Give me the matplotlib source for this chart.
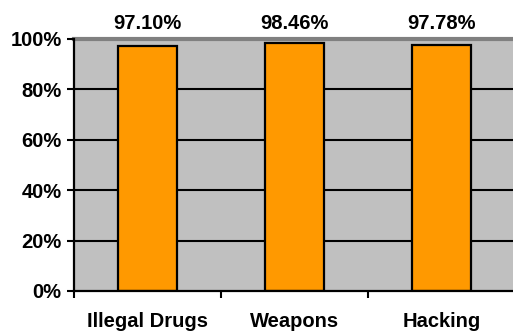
import matplotlib
matplotlib.use("Agg")
import matplotlib.pyplot as plt
from matplotlib.ticker import FuncFormatter

categories = ["Illegal Drugs", "Weapons", "Hacking"]
values = [97.10, 98.46, 97.78]
yticks = [0, 20, 40, 60, 80, 100]

plt.rcParams['font.family'] = ['Liberation Sans', 'DejaVu Sans']
plt.rcParams['font.weight'] = 'bold'

fig = plt.figure(figsize=(5.13, 3.33), dpi=100)
ax = fig.add_axes([74/513, 42/333, 441/513, 252/333])
ax.set_facecolor('#C0C0C0')

x = list(range(len(categories)))
ax.set_ylim(0, 100)
ax.set_xlim(-0.5, len(categories) - 0.5)
for yv in yticks[1:-1]:
    ax.axhline(yv, color='black', lw=1.5, zorder=1)
ax.axhline(100, color='#808080', lw=3, zorder=1, clip_on=False)

ax.bar(x, values, width=0.4, color='#FF9900', edgecolor='black', linewidth=1.6, zorder=2)

for xi, v in zip(x, values):
    ax.annotate(f"{v:.2f}%", (xi, 100), xytext=(0, 4), textcoords='offset points',
                ha='center', va='bottom', fontsize=14.5, fontweight='bold', annotation_clip=False)

ax.set_yticks(yticks)
ax.yaxis.set_major_formatter(FuncFormatter(lambda v, p: f"{int(v)}%"))
ax.set_xticks(x)
ax.set_xticklabels(categories)
ax.set_xticks([i - 0.5 for i in range(len(categories) + 1)], minor=True)
ax.tick_params(axis='x', which='major', length=0, pad=15, labelsize=14.5)
ax.tick_params(axis='x', which='minor', length=5, width=1.5, direction='out', color='black')
ax.tick_params(axis='y', length=5, width=1.5, direction='out', labelsize=14.5, pad=4)
for lab in ax.get_xticklabels() + ax.get_yticklabels():
    lab.set_fontweight('bold')

for s in ['top', 'right']:
    ax.spines[s].set_visible(False)
ax.spines['left'].set_linewidth(1.6)
ax.spines['bottom'].set_linewidth(1.6)

fig.savefig("out.png", dpi=100)
